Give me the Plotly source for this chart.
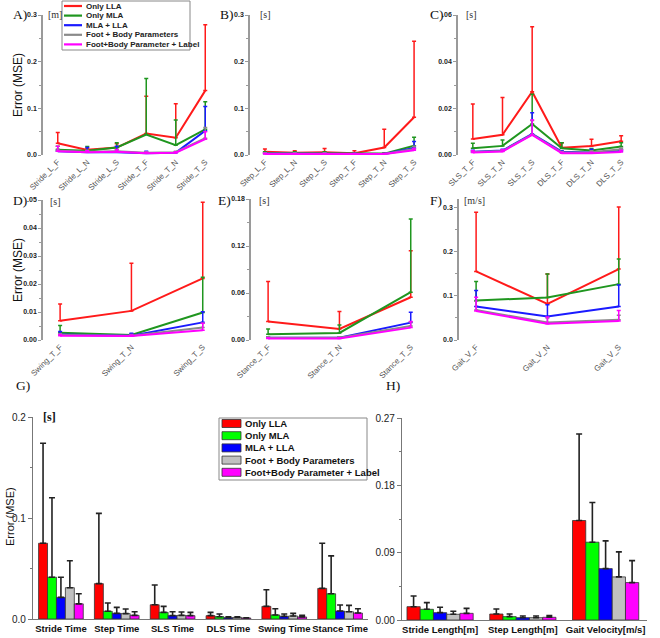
import plotly.graph_objects as go

W, H = 660, 638

SERIES = ["Only LLA", "Only MLA", "MLA + LLA", "Foot + Body Parameters", "Foot+Body Parameter + Label"]
LINE_COLORS = ["#ff1a1a", "#1f961f", "#1a1aff", "#8a8a8a", "#ff00ff"]
BAR_COLORS = ["#ff0000", "#00ff00", "#0000ff", "#c0c0c0", "#ff00ff"]

# ---- Panel A (Stride length) ----
A_cats = ["Stride_L_F", "Stride_L_N", "Stride_L_S", "Stride_T_F", "Stride_T_N", "Stride_T_S"]
A_mean = [[0.025, 0.011, 0.016, 0.046, 0.037, 0.138],
          [0.011, 0.009, 0.016, 0.044, 0.021, 0.055],
          [0.008, 0.006, 0.006, 0.004, 0.005, 0.052],
          [0.009, 0.007, 0.008, 0.005, 0.006, 0.036],
          [0.008, 0.006, 0.007, 0.004, 0.005, 0.034]]
A_err = [[0.023, 0.003, 0.008, 0.080, 0.073, 0.141],
         [0.008, 0.009, 0.010, 0.120, 0.054, 0.059],
         [0.002, 0.010, 0.013, 0.004, 0.002, 0.052],
         [0.004, 0.003, 0.004, 0.002, 0.002, 0.023],
         [0.011, 0.003, 0.004, 0.002, 0.002, 0.016]]

# ---- Panel B (Step) ----
B_cats = ["Step_L_F", "Step_L_N", "Step_L_S", "Step_T_F", "Step_T_N", "Step_T_S"]
B_mean = [[0.007, 0.005, 0.006, 0.004, 0.016, 0.081],
          [0.004, 0.004, 0.004, 0.003, 0.003, 0.020],
          [0.003, 0.003, 0.003, 0.002, 0.002, 0.015],
          [0.003, 0.003, 0.003, 0.002, 0.002, 0.013],
          [0.002, 0.002, 0.002, 0.002, 0.002, 0.010]]
B_err = [[0.006, 0.004, 0.008, 0.005, 0.039, 0.163],
         [0.003, 0.003, 0.003, 0.002, 0.002, 0.018],
         [0.002, 0.002, 0.002, 0.001, 0.001, 0.014],
         [0.002, 0.002, 0.002, 0.001, 0.001, 0.006],
         [0.002, 0.001, 0.001, 0.001, 0.001, 0.004]]

# ---- Panel C (SLS / DLS) ----
C_cats = ["SLS_T_F", "SLS_T_N", "SLS_T_S", "DLS_T_F", "DLS_T_N", "DLS_T_S"]
C_mean = [[0.0069, 0.0087, 0.0271, 0.0031, 0.0039, 0.0059],
          [0.0029, 0.0039, 0.0133, 0.0029, 0.0019, 0.0036],
          [0.0014, 0.0019, 0.0090, 0.0014, 0.0011, 0.0017],
          [0.0013, 0.0017, 0.0088, 0.0011, 0.0012, 0.0025],
          [0.0011, 0.0015, 0.0086, 0.0008, 0.0008, 0.0013]]
C_err = [[0.0150, 0.0159, 0.0279, 0.0022, 0.0028, 0.0024],
         [0.0021, 0.0025, 0.0127, 0.0023, 0.0009, 0.0017],
         [0.0006, 0.0006, 0.0091, 0.0004, 0.0014, 0.0005],
         [0.0005, 0.0005, 0.0060, 0.0004, 0.0006, 0.0005],
         [0.0007, 0.0007, 0.0064, 0.0004, 0.0004, 0.0007]]

# ---- Panel D (Swing) ----
D_cats = ["Swing_T_F", "Swing_T_N", "Swing_T_S"]
D_mean = [[0.0069, 0.0104, 0.0220],
          [0.0026, 0.0018, 0.0098],
          [0.0020, 0.0015, 0.0063],
          [0.0018, 0.0015, 0.0045],
          [0.0015, 0.0014, 0.0035]]
D_err = [[0.0060, 0.0170, 0.0272],
         [0.0026, 0.0004, 0.0126],
         [0.0010, 0.0009, 0.0038],
         [0.0004, 0.0005, 0.0015],
         [0.0005, 0.0004, 0.0025]]

# ---- Panel E (Stance) ----
E_cats = ["Stance_T_F", "Stance_T_N", "Stance_T_S"]
E_mean = [[0.0235, 0.0140, 0.0546],
          [0.0073, 0.0090, 0.0610],
          [0.0030, 0.0030, 0.0222],
          [0.0030, 0.0030, 0.0180],
          [0.0020, 0.0020, 0.0158]]
E_err = [[0.0512, 0.0223, 0.0594],
         [0.0067, 0.0102, 0.0934],
         [0.0010, 0.0010, 0.0132],
         [0.0010, 0.0010, 0.0050],
         [0.0010, 0.0010, 0.0077]]

# ---- Panel F (Gait velocity) ----
F_cats = ["Gait_V_F", "Gait_V_N", "Gait_V_S"]
F_mean = [[0.1557, 0.0820, 0.1610],
          [0.0896, 0.0964, 0.1268],
          [0.0759, 0.0532, 0.0759],
          [0.0680, 0.0400, 0.0460],
          [0.0660, 0.0370, 0.0430]]
F_err = [[0.134, 0.068, 0.141],
         [0.0433, 0.0532, 0.057],
         [0.0365, 0.027, 0.049],
         [0.020, 0.010, 0.010],
         [0.031, 0.015, 0.024]]

# ---- Panel G (temporal parameters, bars) ----
G_cats = ["Stride Time", "Step Time", "SLS Time", "DLS Time", "Swing Time", "Stance Time"]
G_mean = [[0.075, 0.035, 0.0141, 0.0033, 0.0125, 0.0303],
          [0.0414, 0.0076, 0.0066, 0.0023, 0.0040, 0.0250],
          [0.0214, 0.0056, 0.0033, 0.0013, 0.0026, 0.0079],
          [0.0310, 0.0053, 0.0036, 0.0016, 0.0030, 0.0072],
          [0.0150, 0.0036, 0.0033, 0.0010, 0.0020, 0.0059]]
G_err = [[0.099, 0.0696, 0.0195, 0.0033, 0.0165, 0.0447],
         [0.0786, 0.0082, 0.0059, 0.0027, 0.0062, 0.0375],
         [0.0200, 0.0059, 0.0039, 0.0010, 0.0024, 0.0059],
         [0.0266, 0.0046, 0.0033, 0.0007, 0.0026, 0.0063],
         [0.0100, 0.0036, 0.0033, 0.0003, 0.0016, 0.0043]]

# ---- Panel H (spatial parameters, bars) ----
H_cats = ["Stride Length[m]", "Step Length[m]", "Gait Velocity[m/s]"]
H_mean = [[0.0178, 0.0080, 0.133],
          [0.0143, 0.0045, 0.104],
          [0.0098, 0.0031, 0.0687],
          [0.0076, 0.0031, 0.0576],
          [0.0089, 0.0036, 0.0500]]
H_err = [[0.0142, 0.0067, 0.1156],
         [0.0089, 0.0035, 0.0530],
         [0.0072, 0.0023, 0.0371],
         [0.0040, 0.0023, 0.0334],
         [0.0067, 0.0022, 0.0294]]


def xd(a, b):
    return [a / W, b / W]


def yd(top, bottom):
    return [1 - bottom / H, 1 - top / H]


def px(v):
    return v / W


def py(v):
    return 1 - v / H


fig = go.Figure()

line_panels = [
    ("x", "y", A_cats, A_mean, A_err),
    ("x2", "y2", B_cats, B_mean, B_err),
    ("x3", "y3", C_cats, C_mean, C_err),
    ("x4", "y4", D_cats, D_mean, D_err),
    ("x5", "y5", E_cats, E_mean, E_err),
    ("x6", "y6", F_cats, F_mean, F_err),
]

for xa, ya, cats, means, errs in line_panels:
    for i in range(5):
        fig.add_trace(go.Scatter(
            x=cats, y=means[i], mode="lines", name=SERIES[i],
            line=dict(color=LINE_COLORS[i], width=2),
            error_y=dict(type="data", symmetric=False, array=errs[i],
                         arrayminus=[0] * len(cats), color=LINE_COLORS[i],
                         thickness=1.5, width=2),
            xaxis=xa, yaxis=ya, showlegend=False, hoverinfo="skip", cliponaxis=False))

for xa, ya, cats, means, errs in [("x7", "y7", G_cats, G_mean, G_err),
                                  ("x8", "y8", H_cats, H_mean, H_err)]:
    for i in range(5):
        fig.add_trace(go.Bar(
            x=cats, y=means[i], name=SERIES[i],
            marker=dict(color=BAR_COLORS[i], line=dict(color="#333333", width=0.8)),
            error_y=dict(type="data", symmetric=False, array=errs[i],
                         arrayminus=[0] * len(cats), color="#222222",
                         thickness=1.6, width=3),
            xaxis=xa, yaxis=ya, showlegend=False, hoverinfo="skip"))

small_tick = dict(family="Liberation Sans, Arial", size=7, color="#222222", weight="bold")
cat_tick = dict(family="Liberation Sans, Arial", size=8, color="#555555")
axis_gray = "#9a9a9a"


def top_y(rng, tickvals, ticktext, dom, anchor, minor_dtick):
    return dict(domain=yd(*dom), range=rng, anchor=anchor, showline=True, automargin=False,
                linecolor=axis_gray, linewidth=1.5, ticks="outside", ticklen=3,
                tickcolor=axis_gray, tickvals=tickvals, ticktext=ticktext,
                tickfont=small_tick, showgrid=False, zeroline=False,
                minor=dict(ticks="outside", ticklen=2, tickcolor=axis_gray, dtick=minor_dtick))


def top_x(dom, rng, cats, anchor):
    return dict(domain=xd(*dom), range=rng, anchor=anchor, type="category", automargin=False,
                categoryorder="array", categoryarray=cats, showline=False,
                ticks="", tickangle=-45, tickfont=cat_tick, showgrid=False,
                zeroline=False)


bottom_cat_font = dict(family="Liberation Sans, Arial", size=9.5, color="#111111", weight="bold")
bottom_num_font = dict(family="Liberation Sans, Arial", size=10, color="#222222")

layout = dict(
    width=W, height=H, margin=dict(l=0, r=0, t=0, b=0, pad=0, autoexpand=False),
    paper_bgcolor="white", plot_bgcolor="white", showlegend=False,
    barmode="group", bargap=0.2, bargroupgap=0.0,
    font=dict(family="Liberation Sans, Arial", color="#222222"),
    xaxis=top_x((43, 220), [-0.5, 5.5], A_cats, "y"),
    xaxis2=top_x((250, 429), [-0.5, 5.5], B_cats, "y2"),
    xaxis3=top_x((458, 636), [-0.5, 5.5], C_cats, "y3"),
    xaxis4=top_x((43, 217), [-0.24, 2.2], D_cats, "y4"),
    xaxis5=top_x((251, 425), [-0.24, 2.2], E_cats, "y5"),
    xaxis6=top_x((459, 633), [-0.24, 2.2], F_cats, "y6"),
    yaxis=top_y([0, 0.3], [0, 0.1, 0.2, 0.3], ["0.0", "0.1", "0.2", "0.3"], (15, 155), "x", 0.05),
    yaxis2=top_y([0, 0.3], [0, 0.1, 0.2, 0.3], ["0.0", "0.1", "0.2", "0.3"], (15, 155), "x2", 0.05),
    yaxis3=top_y([0, 0.06], [0, 0.02, 0.04, 0.06], ["0.00", "0.02", "0.04", ".06"], (15, 155), "x3", 0.01),
    yaxis4=top_y([0, 0.05], [0, 0.01, 0.02, 0.03, 0.04, 0.05],
                 ["0.00", "0.01", "0.02", "0.03", "0.04", ".05"], (200, 340), "x4", 0.005),
    yaxis5=top_y([0, 0.18], [0, 0.06, 0.12, 0.18], ["0.00", "0.06", "0.12", "0.18"], (199, 340), "x5", 0.03),
    yaxis6=top_y([0, 0.32], [0, 0.1, 0.2, 0.3], ["0.0", "0.1", "0.2", "0.3"], (199, 340), "x6", 0.05),
    xaxis7=dict(domain=xd(33, 368), range=[-0.5, 5.5], anchor="y7", type="category", automargin=False,
                categoryorder="array", categoryarray=G_cats, showline=True,
                linecolor="#777777", linewidth=1.2, ticks="", tickangle=0,
                tickfont=bottom_cat_font, showgrid=False, zeroline=False),
    yaxis7=dict(domain=yd(417, 619), range=[0, 0.2], anchor="x7", showline=True, automargin=False,
                linecolor="#777777", linewidth=1.2, ticks="outside", ticklen=4, tickcolor="#777777",
                tickvals=[0, 0.1, 0.2], ticktext=["0.0", "0.1", "0.2"],
                tickfont=bottom_num_font, showgrid=False, zeroline=False,
                minor=dict(ticks="outside", ticklen=2, tickcolor="#777777", dtick=0.05)),
    xaxis8=dict(domain=xd(402, 647), range=[-0.46, 2.5], anchor="y8", type="category", automargin=False,
                categoryorder="array", categoryarray=H_cats, showline=True,
                linecolor="#777777", linewidth=1.2, ticks="", tickangle=0,
                tickfont=bottom_cat_font, showgrid=False, zeroline=False),
    yaxis8=dict(domain=yd(418, 620), range=[0, 0.27], anchor="x8", showline=True, automargin=False,
                linecolor="#777777", linewidth=1.2, ticks="outside", ticklen=4, tickcolor="#777777",
                tickvals=[0, 0.09, 0.18, 0.27], ticktext=["0.00", "0.09", "0.18", "0.27"],
                tickfont=bottom_num_font, showgrid=False, zeroline=False,
                minor=dict(ticks="outside", ticklen=2, tickcolor="#777777", dtick=0.045)),
)
fig.update_layout(**layout)

serif = "Liberation Serif, Times New Roman"
ann = []
shapes = []
for txt, x0, y0 in [("A)", 11, 15), ("B)", 218, 15), ("C)", 428, 15),
                    ("D)", 11, 200), ("E)", 216, 200), ("F)", 428, 200),
                    ("G)", 14, 385), ("H)", 384, 385)]:
    ann.append(dict(text=txt, x=px(x0), y=py(y0), xref="paper", yref="paper",
                    xanchor="left", yanchor="middle", showarrow=False,
                    font=dict(family=serif, size=13.5, color="#111111")))
for txt, x0, y0 in [("[m]", 46, 15), ("[s]", 258, 15), ("[s]", 464, 15),
                    ("[s]", 48, 201), ("[s]", 257, 200), ("[m/s]", 462, 200)]:
    ann.append(dict(text=txt, x=px(x0), y=py(y0), xref="paper", yref="paper",
                    xanchor="left", yanchor="middle", showarrow=False,
                    font=dict(family=serif, size=10, color="#333333")))
ann.append(dict(text="<b>[s]</b>", x=px(41), y=py(417), xref="paper", yref="paper",
                xanchor="left", yanchor="middle", showarrow=False,
                font=dict(family=serif, size=12, color="#111111")))
for x0, y0, sz in [(18, 85, 12), (18, 270, 12), (10, 517, 11)]:
    ann.append(dict(text="Error (MSE)", x=px(x0), y=py(y0), xref="paper", yref="paper",
                    xanchor="center", yanchor="middle", showarrow=False, textangle=-90,
                    font=dict(family="Liberation Sans, Arial", size=sz, color="#111111")))

# ---- legend for the line panels (top-left box) ----
shapes.append(dict(type="rect", xref="paper", yref="paper", x0=px(62), x1=px(190),
                   y0=py(50), y1=py(1), line=dict(color="#888888", width=1),
                   fillcolor="white", layer="above"))
for i, name in enumerate(SERIES):
    yy = 6 + i * 9.6
    shapes.append(dict(type="line", xref="paper", yref="paper", x0=px(64), x1=px(82),
                       y0=py(yy), y1=py(yy), line=dict(color=LINE_COLORS[i], width=2.2),
                       layer="above"))
    ann.append(dict(text=name, x=px(84), y=py(yy), xref="paper", yref="paper",
                    xanchor="left", yanchor="middle", showarrow=False,
                    font=dict(family="Liberation Sans, Arial", size=8, color="#222222", weight="bold")))

# ---- legend for the bar panels ----
shapes.append(dict(type="rect", xref="paper", yref="paper", x0=px(219), x1=px(367),
                   y0=py(480), y1=py(418), line=dict(color="#888888", width=1),
                   fillcolor="white", layer="above"))
for i, name in enumerate(SERIES):
    yy = 423.5 + i * 12.2
    shapes.append(dict(type="rect", xref="paper", yref="paper", x0=px(222), x1=px(241),
                       y0=py(yy + 4), y1=py(yy - 4), fillcolor=BAR_COLORS[i],
                       line=dict(color="#333333", width=0.8), layer="above"))
    ann.append(dict(text=name, x=px(243), y=py(yy), xref="paper", yref="paper",
                    xanchor="left", yanchor="middle", showarrow=False,
                    font=dict(family="Liberation Sans, Arial", size=9.5, color="#111111", weight="bold")))

fig.update_layout(annotations=ann, shapes=shapes)

fig.write_html("out.html", config={"displayModeBar": False},
               post_script="document.body.style.margin='0';document.body.style.overflow='hidden';")
